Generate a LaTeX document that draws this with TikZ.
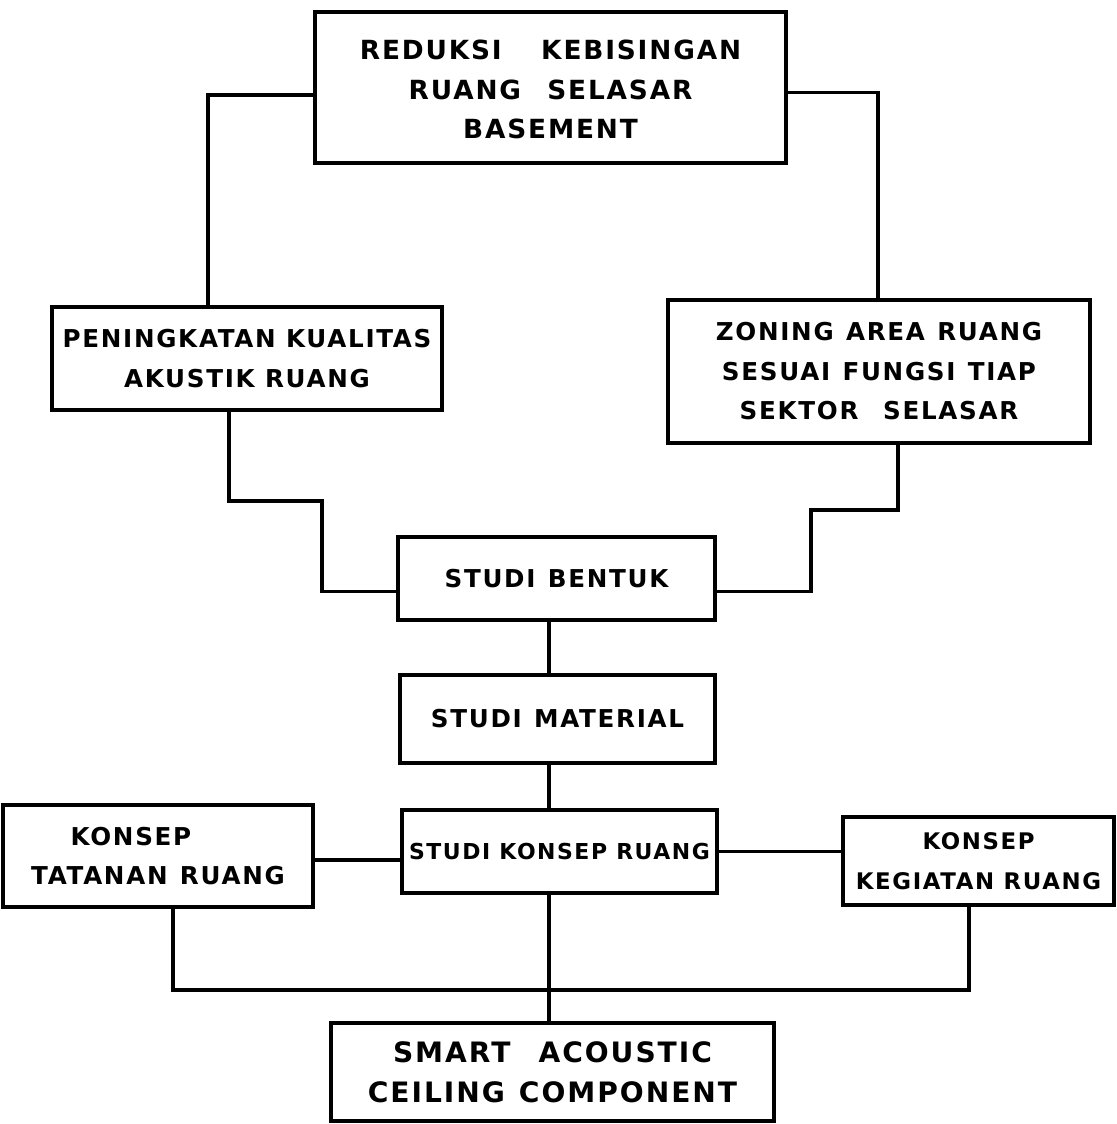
\documentclass[tikz,border=0pt]{standalone}
\usepackage{fontspec}
\newfontfamily\hand[LetterSpace=7]{DejaVu Sans Bold}
\usetikzlibrary{calc}
\newcommand{\fs}[1]{\fontsize{#1}{22.5}\selectfont}
\begin{document}
\begin{tikzpicture}[x=0.02cm,y=-0.02cm,
  box/.style={draw, line width=2.3pt, inner sep=0pt, align=center,
    font=\hand\fs{14}},
  link/.style={line width=1.8pt}]
\useasboundingbox[fill=white] (0,0) rectangle (1116,1124);
% boxes: centre and size from corner pixels
\node[box, font=\hand\fs{15}, minimum width=9.42cm, minimum height=3.02cm] (top) at (550.5,87.5)
  {\rule{0pt}{5pt}\\[-14pt]REDUKSI\quad\enspace KEBISINGAN\\RUANG\quad SELASAR\\BASEMENT};
\node[box, minimum width=7.8cm, minimum height=2.06cm] (left) at (247,358.5)
  {PENINGKATAN KUALITAS\\AKUSTIK RUANG};
\node[box, minimum width=8.44cm, minimum height=2.86cm] (right) at (879,371.5)
  {ZONING\enspace AREA\enspace RUANG\\SESUAI\enspace FUNGSI\enspace TIAP\\SEKTOR\quad SELASAR};
\node[box, minimum width=6.34cm, minimum height=1.66cm] (bentuk) at (556.5,578.5)
  {STUDI\enspace BENTUK};
\node[box, minimum width=6.3cm, minimum height=1.76cm] (material) at (557.5,719)
  {STUDI\enspace MATERIAL};
\node[box, font=\hand\fs{12.5}, minimum width=6.3cm, minimum height=1.66cm] (konsep) at (559.5,851.5)
  {STUDI KONSEP RUANG};
\node[box, minimum width=6.2cm, minimum height=2.04cm] (tatanan) at (158,856)
  {KONSEP\hspace*{2.2em}\\TATANAN\enspace RUANG};
\node[box, font=\hand\fs{13}, minimum width=5.42cm, minimum height=1.76cm] (kegiatan) at (978.5,861)
  {KONSEP\\KEGIATAN RUANG};
\node[box, font=\hand\fs{16}, minimum width=8.86cm, minimum height=1.96cm] (smart) at (552.5,1072)
  {SMART\quad ACOUSTIC\\CEILING\enspace COMPONENT};
% helper x positions
\coordinate (lx) at (208,0);
\coordinate (rx) at (878,0);
\coordinate (lb) at (229,0);
\coordinate (rb) at (898,0);
\coordinate (cx) at (549,0);
\coordinate (tb) at (173,0);
\coordinate (kb) at (969,0);
% connectors
\draw[link] ([yshift=-0.15cm]top.west) -| (lx |- left.north);
\draw[link] ([yshift=-0.1cm]top.east) -| (rx |- right.north);
\draw[link] (lb |- left.south) -- (229,501) -- (322,501) |- ([yshift=-0.26cm]bentuk.west);
\draw[link] (rb |- right.south) -- (898,510) -- (811,510) |- ([yshift=-0.26cm]bentuk.east);
\draw[link] (cx |- bentuk.south) -- (cx |- material.north);
\draw[link] (cx |- material.south) -- (cx |- konsep.north);
\draw[link] (cx |- konsep.south) -- (cx |- smart.north);
\draw[link] ([yshift=-0.08cm]tatanan.east) -- ([yshift=-0.08cm]tatanan.east -| konsep.west);
\draw[link] (konsep.east) -- (konsep.east -| kegiatan.west);
\draw[link] (tb |- tatanan.south) -- (173,990) -- (969,990) -- (kb |- kegiatan.south);
\end{tikzpicture}
\end{document}
